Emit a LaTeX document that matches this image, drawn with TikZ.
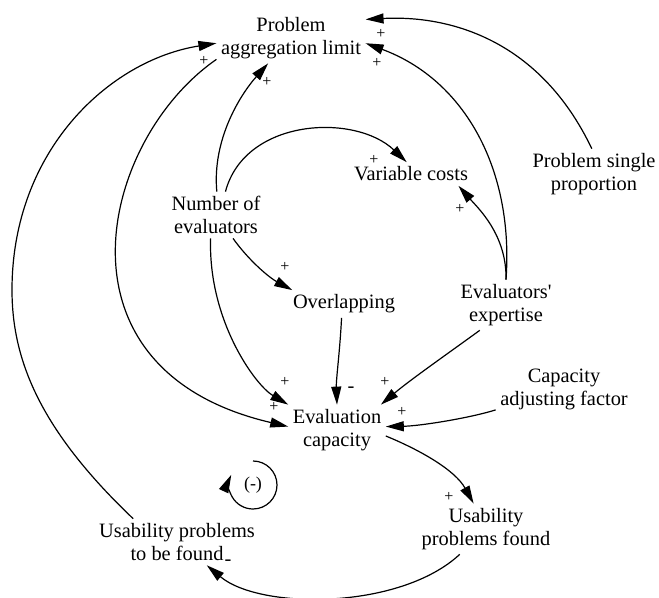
\documentclass[tikz,border=0pt]{standalone}
\usepackage{fontspec}
\setmainfont{Liberation Serif}
\usetikzlibrary{arrows.meta}
\tikzstyle{var}=[align=center, inner sep=2pt]
\tikzstyle{sign}=[inner sep=0pt, font=\fontsize{8}{8}\selectfont]
\tikzstyle{link}=[-{Triangle[length=9pt, width=5pt]}]

\begin{document}
\begin{tikzpicture}[x=0.5pt, y=-0.5pt, semithick, font=\fontsize{10.2}{11.5}\selectfont]
                    \useasboundingbox (0, 0) rectangle (659, 598);
                    \node[var] (11) at (291, 38) {Problem\\aggregation limit};
                    \node[var] (12) at (411, 174) {Variable costs};
                    \node[var] (13) at (216, 215) {Number of\\evaluators};
                    \node[var] (14) at (594, 174) {Problem single\\proportion};
                    \node[var] (15) at (344, 304) {Overlapping};
                    \node[var] (16) at (506, 305) {Evaluators\textquotesingle\\expertise};
                    \node[var] (17) at (564, 389) {Capacity\\adjusting factor};
                    \node[var] (18) at (337, 430) {Evaluation\\capacity};
                    \node[var] (19) at (486, 529) {Usability\\problems found};
                    \node[var] (20) at (177, 542) {Usability problems\\to be found};
                    \node[inner sep=0pt, font=\fontsize{9}{9}\selectfont] (21) at (253, 485) {(-)};
                    \draw[link] (13.88) .. controls (212, 140) and (240, 95) .. (11.228);
                    \draw[link] (13.68) .. controls (245, 118) and (355, 113) .. (12.110);
                    \draw[link] (13.306) .. controls (250, 262) and (270, 278) .. (15.165);
                    \draw[link] (13.257) .. controls (208, 320) and (255, 385) .. (18.north west);
                    \draw[link] (11.196) .. controls (100, 140) and (45, 370) .. (18.176);
                    \draw[link] (20.152) .. controls (40, 430) and (12, 360) .. (12, 290) .. controls (12, 150) and (110, 60) .. (11.184);
                    \draw[link] (16.north) .. controls (514, 170) and (465, 80) .. (11.356);
                    \draw[link] (16.north) .. controls (507, 235) and (478, 208) .. (12.346);
                    \draw[link] (14.95) .. controls (540, 40) and (450, 15) .. (11.14);
                    \draw[link] (15.260) .. controls (340, 350) and (336, 380) .. (18.north);
                    \draw[link] (16.224) .. controls (450, 352) and (410, 380) .. (18.30);
                    \draw[link] (17.197) .. controls (470, 418) and (420, 426) .. (18.4);
                    \draw[link] (18.353) .. controls (420, 450) and (455, 470) .. (19.116);
                    \draw[link] (19.224) .. controls (400, 610) and (260, 610) .. (20.322);
                    \draw[link] (21.center) ++(0, -24) arc[start angle=90, end angle=-205, radius=12pt];
                    \node[sign] at (204, 61) {+};
                    \node[sign] at (267, 82) {+};
                    \node[sign] at (381, 34) {+};
                    \node[sign] at (377, 63) {+};
                    \node[sign] at (374, 160) {+};
                    \node[sign] at (460, 209) {+};
                    \node[sign] at (285, 267) {+};
                    \node[sign] at (285, 382) {+};
                    \node[sign] at (274, 407) {+};
                    \node[inner sep=0pt] at (351, 390) {-};
                    \node[sign] at (385, 382) {+};
                    \node[sign] at (402, 412) {+};
                    \node[sign] at (449, 497) {+};
                    \node[inner sep=0pt] at (228, 563) {-};
                \end{tikzpicture}
\end{document}
